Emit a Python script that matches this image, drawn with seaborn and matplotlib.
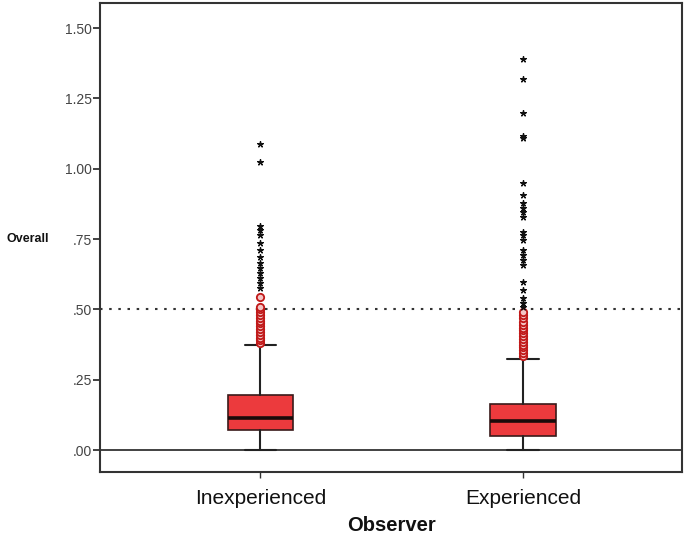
import matplotlib
matplotlib.use("Agg")
import matplotlib.pyplot as plt
import seaborn as sns
import pandas as pd

categories = ["Inexperienced", "Experienced"]
q1 = [0.071, 0.051]
median = [0.115, 0.103]
q3 = [0.196, 0.162]
whisker_low = [0.0, 0.0]
whisker_high = [0.373, 0.323]
# outliers (circles) and extreme values (stars)
outliers_inexp = [0.38, 0.39, 0.40, 0.41, 0.42, 0.43, 0.44, 0.45, 0.46, 0.47,
                  0.48, 0.49, 0.50, 0.51, 0.545]
extremes_inexp = [0.576, 0.593, 0.611, 0.629, 0.647, 0.664, 0.687, 0.711,
                  0.736, 0.764, 0.782, 0.796, 1.025, 1.088]
outliers_exp = [0.335, 0.345, 0.355, 0.365, 0.375, 0.385, 0.395, 0.405, 0.415,
                0.425, 0.435, 0.445, 0.456, 0.468, 0.48, 0.492]
extremes_exp = [0.509, 0.522, 0.54, 0.569, 0.598, 0.658, 0.675, 0.693, 0.711,
                0.747, 0.764, 0.776, 0.829, 0.847, 0.86, 0.878, 0.906, 0.949,
                1.109, 1.116, 1.199, 1.318, 1.389]
yticks = [0.0, 0.25, 0.5, 0.75, 1.0, 1.25, 1.5]
ytick_labels = [".00", ".25", ".50", ".75", "1.00", "1.25", "1.50"]
reference_line = 0.5

sns.set_theme(style="white")
plt.rcParams["font.family"] = ["Liberation Sans", "DejaVu Sans"]

fig = plt.figure(figsize=(6.85, 5.42), dpi=100)
ax = fig.add_axes([100 / 685, 70 / 542, 582 / 685, 469 / 542])

stats = []
for i, c in enumerate(categories):
    stats.append(dict(label=c, q1=q1[i], med=median[i], q3=q3[i],
                      whislo=whisker_low[i], whishi=whisker_high[i], fliers=[]))
ax.bxp(stats, positions=[0, 1], widths=0.25, patch_artist=True,
       showfliers=False, capwidths=0.12,
       boxprops=dict(facecolor="#EC3A3D", edgecolor="#3a1a1a", linewidth=1.2),
       medianprops=dict(color="#1a0a0a", linewidth=2.6),
       whiskerprops=dict(color="#222222", linewidth=1.5),
       capprops=dict(color="#222222", linewidth=1.5), zorder=3)

circ = pd.DataFrame({"Observer": [categories[0]] * len(outliers_inexp) + [categories[1]] * len(outliers_exp),
                     "value": outliers_inexp + outliers_exp})
star = pd.DataFrame({"Observer": [categories[0]] * len(extremes_inexp) + [categories[1]] * len(extremes_exp),
                     "value": extremes_inexp + extremes_exp})
circ["x"] = circ["Observer"].map({c: i for i, c in enumerate(categories)})
star["x"] = star["Observer"].map({c: i for i, c in enumerate(categories)})

sns.scatterplot(data=circ, x="x", y="value", ax=ax, marker="o", s=28,
                facecolor="#f4c4c4", edgecolor="#c01818", linewidth=1.3, zorder=4, legend=False)
sns.scatterplot(data=star, x="x", y="value", ax=ax, marker=(5, 2, 0), s=16,
                color="#111111", linewidth=1.0, zorder=4, legend=False)

ax.axhline(0, color="#333333", linewidth=1.3, zorder=2)
ax.axhline(reference_line, color="#333333", linewidth=1.5, linestyle=(0, (1.2, 3.2)), zorder=2)

ax.set_xlim(-0.611, 1.606)
ax.set_ylim(-0.078, 1.589)
ax.set_xticks([0, 1])
ax.set_xticklabels(categories, fontsize=15, color="#111111")
ax.set_yticks(yticks)
ax.set_yticklabels(ytick_labels, fontsize=10, color="#444444")
ax.tick_params(axis="y", direction="out", length=5, width=1.3, color="#333333", left=True, pad=1)
ax.tick_params(axis="x", direction="out", length=4, width=1.0, color="#333333", bottom=True, pad=8)

for s in ax.spines.values():
    s.set_color("#333333")
    s.set_linewidth(1.5)

ax.set_xlabel("Observer", fontsize=14.5, fontweight="bold", color="#111111", labelpad=6)
ax.set_ylabel("Overall", fontsize=9, fontweight="bold", rotation=0, color="#111111")
ax.yaxis.set_label_coords(-0.124, 0.497)
ax.yaxis.label.set_va("center")
ax.yaxis.label.set_ha("center")

fig.savefig("out.png", dpi=100)
